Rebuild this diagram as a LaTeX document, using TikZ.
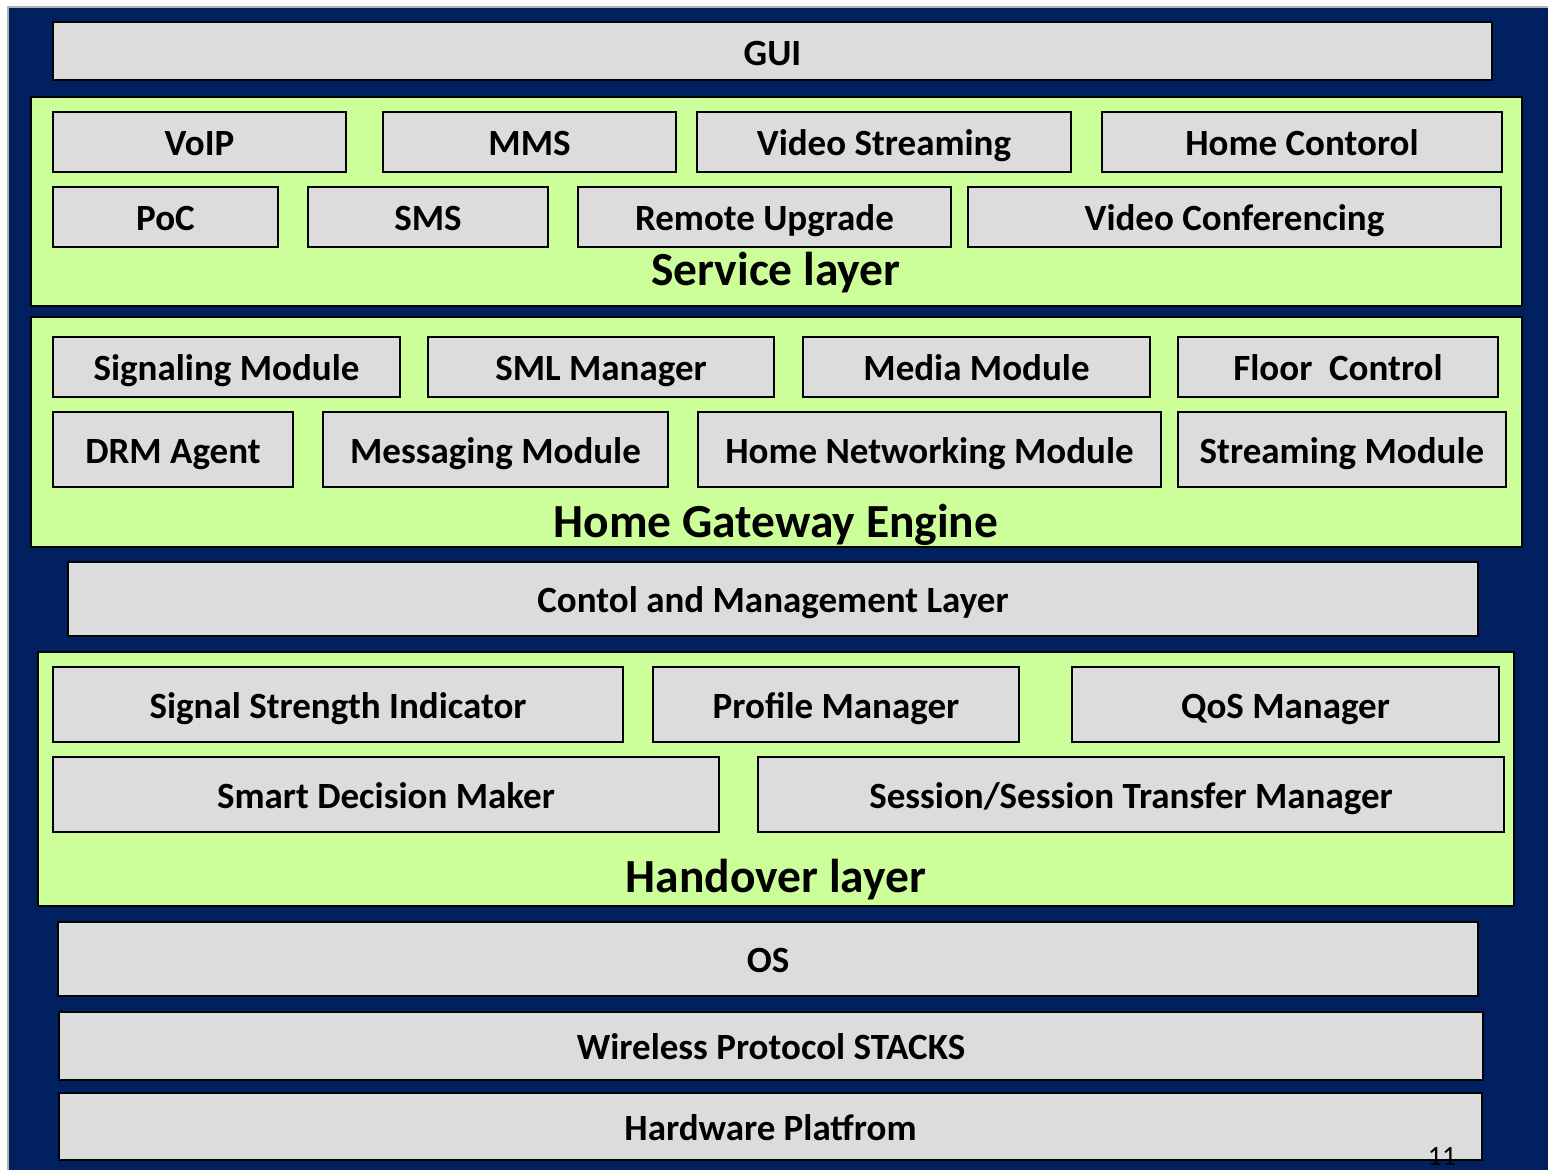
\documentclass[tikz,border=0pt]{standalone}
\usepackage{fontspec}
\setmainfont{Carlito}
\definecolor{navy}{HTML}{002060}
\definecolor{boxgray}{HTML}{DCDCDC}
\definecolor{layergreen}{HTML}{CCFF99}
\begin{document}
\begin{tikzpicture}[x=1pt,y=-1pt,
  box/.style={draw=black, line width=2.6pt, fill=boxgray, inner sep=0pt,
    font=\fontsize{37}{40}\selectfont\bfseries, text height=27pt, text depth=0pt},
  layer/.style={draw=black, line width=2.6pt, fill=layergreen, inner sep=0pt},
  layertitle/.style={font=\fontsize{47.5}{52}\selectfont\bfseries, inner sep=0pt,
    text height=30.5pt, text depth=0pt}]
% page background
\useasboundingbox (0,0) rectangle (1548,1170);
\fill[white] (0,0) rectangle (1548,1170);
\draw[gray!60, line width=1.2pt] (8,1170) -- (8,7) -- (1548,7);
\fill[navy] (9,8) rectangle (1548,1170);

% top
\node[box, minimum width=1439pt, minimum height=58pt, text height=29pt] (gui) at (772.5,51) {GUI};

% service layer
\node[layer, minimum width=1491pt, minimum height=209pt] (svc) at (776.5,201.5) {};
\node[box, minimum width=293pt, minimum height=60pt] (voip) at (199.5,142) {VoIP};
\node[box, minimum width=293pt, minimum height=60pt] (mms) at (529.5,142) {MMS};
\node[box, minimum width=374pt, minimum height=60pt] (vstream) at (884,142) {Video Streaming};
\node[box, minimum width=400pt, minimum height=60pt] (homectl) at (1302,142) {Home Contorol};
\node[box, minimum width=225pt, minimum height=60pt] (poc) at (165.5,217) {PoC};
\node[box, minimum width=240pt, minimum height=60pt] (sms) at (428,217) {SMS};
\node[box, minimum width=373pt, minimum height=60pt] (upgrade) at (764.5,217) {Remote Upgrade};
\node[box, minimum width=533pt, minimum height=60pt] (vconf) at (1234.5,217) {Video Conferencing};
\node[layertitle] (svctitle) at (776,270) {Service layer};

% home gateway engine
\node[layer, minimum width=1491pt, minimum height=230pt] (hge) at (776.5,432) {};
\node[box, minimum width=347pt, minimum height=60pt] (sig) at (226.5,367) {Signaling Module};
\node[box, minimum width=346pt, minimum height=60pt] (sml) at (601,367) {SML Manager};
\node[box, minimum width=347pt, minimum height=60pt] (media) at (976.5,367) {Media Module};
\node[box, minimum width=320pt, minimum height=60pt] (floor) at (1338,367) {Floor\ \ Control};
\node[box, minimum width=240pt, minimum height=75pt] (drm) at (173,449.5) {DRM Agent};
\node[box, minimum width=345pt, minimum height=75pt] (msg) at (495.5,449.5) {Messaging Module};
\node[box, minimum width=463pt, minimum height=75pt] (homenet) at (929.5,449.5) {Home Networking Module};
\node[box, minimum width=328pt, minimum height=75pt] (stream) at (1342,449.5) {Streaming Module};
\node[layertitle] (hgetitle) at (776,522) {Home Gateway Engine};

% control and management
\node[box, minimum width=1410pt, minimum height=74pt] (ctl) at (773,599) {Contol and Management Layer};

% handover layer
\node[layer, minimum width=1476pt, minimum height=254pt] (ho) at (776,779) {};
\node[box, minimum width=570pt, minimum height=75pt] (ssi) at (338,704.5) {Signal Strength Indicator};
\node[box, minimum width=366pt, minimum height=75pt] (profile) at (836,704.5) {Profile Manager};
\node[box, minimum width=427pt, minimum height=75pt] (qos) at (1285.5,704.5) {QoS Manager};
\node[box, minimum width=666pt, minimum height=75pt] (sdm) at (386,794.5) {Smart Decision Maker};
\node[box, minimum width=746pt, minimum height=75pt] (session) at (1131,794.5) {Session/Session Transfer Manager};
\node[layertitle] (hotitle) at (776,877) {Handover layer};

% lower stack
\node[box, minimum width=1420pt, minimum height=74pt] (os) at (768,959) {OS};
\node[box, minimum width=1424pt, minimum height=68pt] (wps) at (771,1046) {Wireless Protocol STACKS};
\node[box, minimum width=1423pt, minimum height=67pt] (hw) at (770.5,1126.5) {Hardware Platfrom};

% page number
\node[font=\fontsize{28}{30}\selectfont, inner sep=0pt, text height=18pt, text depth=0pt] (pagenum) at (1442,1156) {11};
\end{tikzpicture}
\end{document}
